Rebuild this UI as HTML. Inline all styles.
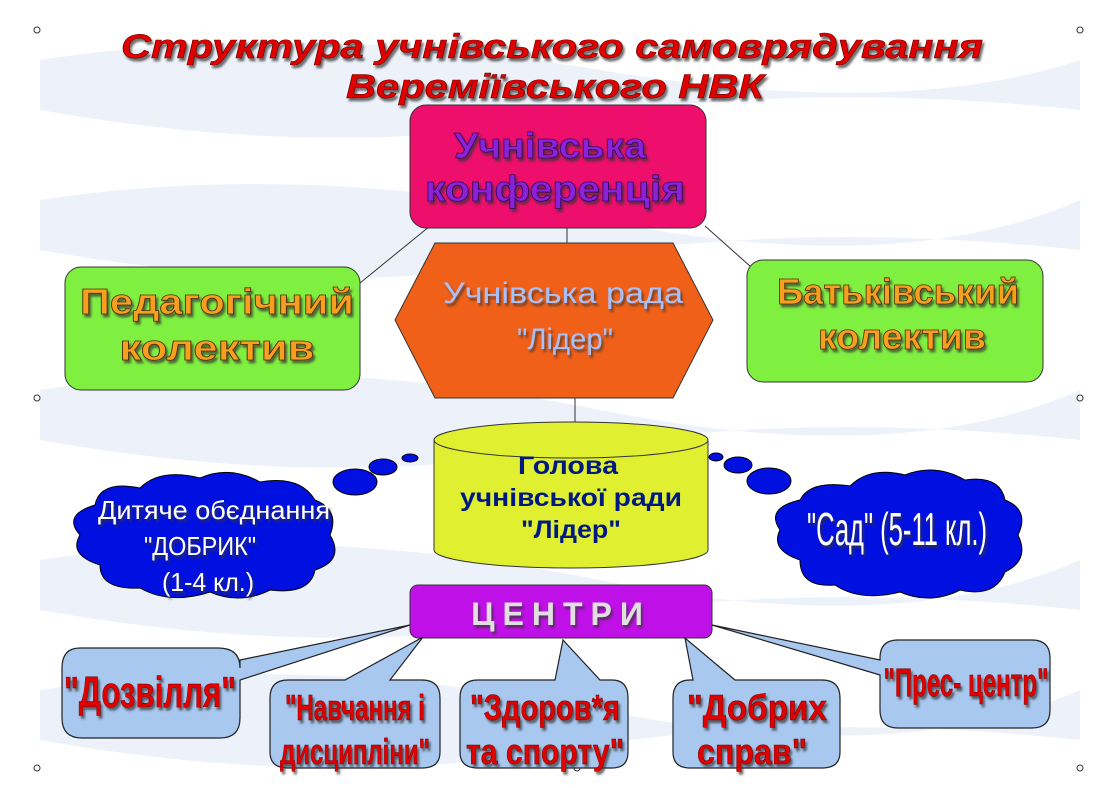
<!DOCTYPE html>
<html><head><meta charset="utf-8"><style>
html,body{margin:0;padding:0;background:#fff}
svg{display:block}
text{font-family:"Liberation Sans",sans-serif}
.b{font-weight:bold}
.n{font-weight:normal}
</style></head><body>
<svg width="1115" height="788" viewBox="0 0 1115 788" xmlns="http://www.w3.org/2000/svg">
<defs>
<filter id="sh" x="-10%" y="-10%" width="130%" height="140%"><feDropShadow dx="2" dy="3" stdDeviation="1" flood-color="#333" flood-opacity="0.7"/></filter>
</defs>
<g fill="#edf2fa">
<path d="M40 60 Q300 20 600 70 T1080 60 L1080 110 Q800 80 560 120 T40 110Z"/>
<path d="M40 200 Q300 160 600 220 T1080 200 L1080 250 Q800 220 560 260 T40 250Z"/>
<path d="M40 390 Q300 350 600 410 T1080 390 L1080 440 Q800 410 560 450 T40 440Z"/>
<path d="M40 560 Q300 520 600 580 T1080 560 L1080 610 Q800 580 560 620 T40 610Z"/>
<path d="M40 690 Q300 650 600 710 T1080 690 L1080 740 Q800 710 560 750 T40 740Z"/>
</g>
<g fill="#fff" stroke="#333" stroke-width="1">
<circle cx="37" cy="30" r="3"/><circle cx="1080" cy="30" r="3"/><circle cx="37" cy="398" r="3"/><circle cx="1080" cy="398" r="3"/><circle cx="37" cy="768" r="3"/><circle cx="577" cy="768" r="3"/><circle cx="1080" cy="768" r="3"/>
</g>
<g class="b" fill="#e00000" font-style="italic" font-size="34" text-anchor="middle" stroke="#600" stroke-width="0.6" filter="url(#sh)">
<text x="552" y="58" textLength="862" lengthAdjust="spacingAndGlyphs">Структура учнівського самоврядування</text>
<text x="555" y="98" textLength="418" lengthAdjust="spacingAndGlyphs">Вереміївського НВК</text>
</g>
<g stroke="#333" stroke-width="1">
<line x1="430" y1="226" x2="360" y2="283"/>
<line x1="567" y1="226" x2="567" y2="243"/>
<line x1="705" y1="226" x2="760" y2="275"/>
<line x1="575" y1="398" x2="575" y2="424"/>
</g>
<rect x="410" y="105" width="296" height="123" rx="16" fill="#ee0e6c" stroke="#333"/>
<g class="b" fill="#8a20d8" font-size="36" text-anchor="middle" stroke="#3a0060" stroke-width="0.8" filter="url(#sh)">
<text x="550" y="158" textLength="192" lengthAdjust="spacingAndGlyphs">Учнівська</text>
<text x="555" y="201" textLength="260" lengthAdjust="spacingAndGlyphs">конференція</text>
</g>
<rect x="65" y="267" width="295" height="123" rx="16" fill="#80f040" stroke="#333"/>
<rect x="747" y="260" width="296" height="122" rx="16" fill="#80f040" stroke="#333"/>
<g class="b" fill="#f6a020" font-size="36" text-anchor="middle" stroke="#5a2a00" stroke-width="0.8" filter="url(#sh)">
<text x="217" y="314" textLength="274" lengthAdjust="spacingAndGlyphs">Педагогічний</text>
<text x="217" y="360" textLength="195" lengthAdjust="spacingAndGlyphs">колектив</text>
<text x="898" y="304" textLength="242" lengthAdjust="spacingAndGlyphs">Батьківський</text>
<text x="902" y="349" textLength="168" lengthAdjust="spacingAndGlyphs">колектив</text>
</g>
<polygon points="395,320 435,243 673,243 713,320 673,398 435,398" fill="#f06018" stroke="#333"/>
<g class="n" fill="#a8c0f8" font-size="30" text-anchor="middle" filter="url(#sh)">
<text x="563" y="303" textLength="240" lengthAdjust="spacingAndGlyphs">Учнівська рада</text>
<text x="565" y="349" textLength="96" lengthAdjust="spacingAndGlyphs">"Лідер"</text>
</g>
<path d="M434 440 L434 550 A137 18 0 0 0 708 550 L708 440" fill="#e0f030" stroke="#333"/>
<ellipse cx="571" cy="440" rx="137" ry="18" fill="#e0f030" stroke="#333"/>
<g class="b" fill="#001a80" font-size="25" text-anchor="middle">
<text x="568" y="474" textLength="100" lengthAdjust="spacingAndGlyphs">Голова</text>
<text x="571" y="506" textLength="222" lengthAdjust="spacingAndGlyphs">учнівської ради</text>
<text x="571" y="538" textLength="100" lengthAdjust="spacingAndGlyphs">"Лідер"</text>
</g>
<g fill="#0010e0" stroke="#000" stroke-width="1">
<ellipse cx="410" cy="458" rx="8" ry="4"/>
<ellipse cx="383" cy="467" rx="14" ry="8"/>
<ellipse cx="355" cy="482" rx="22" ry="13"/>
<ellipse cx="716" cy="457" rx="7" ry="4"/>
<ellipse cx="738" cy="465" rx="14" ry="8"/>
<ellipse cx="769" cy="481" rx="22" ry="13"/>
<path d="M95 505 Q100 480 140 488 Q160 468 200 478 Q230 465 260 482 Q300 475 315 500 Q340 510 330 535 Q345 560 315 570 Q310 595 270 590 Q240 605 210 592 Q170 605 140 588 Q100 590 100 565 Q68 555 80 535 Q62 515 95 505Z"/>
<path d="M800 500 Q810 480 850 486 Q870 466 905 475 Q935 463 965 480 Q1000 475 1005 500 Q1030 510 1018 535 Q1030 560 1005 572 Q995 598 960 590 Q930 605 900 592 Q860 602 835 585 Q800 588 800 560 Q770 550 780 530 Q765 508 800 500Z"/>
</g>
<g class="n" fill="#fff" font-size="26" text-anchor="middle" filter="url(#sh)">
<text x="214" y="519" textLength="232" lengthAdjust="spacingAndGlyphs">Дитяче обєднання</text>
<text x="200" y="555" textLength="112" lengthAdjust="spacingAndGlyphs">"ДОБРИК"</text>
<text x="208" y="591" textLength="92" lengthAdjust="spacingAndGlyphs">(1-4 кл.)</text>
<text x="897" y="545" font-size="46" textLength="180" lengthAdjust="spacingAndGlyphs">"Сад" (5-11 кл.)</text>
</g>
<rect x="410" y="585" width="302" height="53" rx="8" fill="#c010e8" stroke="#333"/>
<text class="b" x="561" y="625" font-size="32" fill="#e0e0e0" text-anchor="middle" letter-spacing="8" filter="url(#sh)">ЦЕНТРИ</text>
<g fill="#a8c8f0" stroke="#222" stroke-width="1.2">
<path d="M80 648 L218 648 Q240 648 240 668 L240 660 L410 625 L240 680 L240 718 Q240 738 220 738 L82 738 Q62 738 62 718 L62 668 Q62 648 80 648Z"/>
<path d="M288 680 L345 680 L423 637 L390 680 L422 680 Q440 680 440 698 L440 752 Q440 768 422 768 L288 768 Q270 768 270 752 L270 698 Q270 680 288 680Z"/>
<path d="M478 680 L555 680 L563 640 L600 680 L612 680 Q628 680 628 698 L628 752 Q628 768 612 768 L478 768 Q460 768 460 752 L460 698 Q460 680 478 680Z"/>
<path d="M690 680 L693 680 L685 638 L735 680 L822 680 Q840 680 840 698 L840 752 Q840 768 822 768 L690 768 Q673 768 673 752 L673 698 Q673 680 690 680Z"/>
<path d="M898 640 L1032 640 Q1050 640 1050 658 L1050 710 Q1050 728 1032 728 L898 728 Q880 728 880 710 L880 675 L712 625 L880 660 L880 658 Q880 640 898 640Z"/>
</g>
<g class="b" fill="#e00000" text-anchor="middle" stroke="#600" stroke-width="0.5" filter="url(#sh)">
<text x="150" y="707" font-size="44" textLength="172" lengthAdjust="spacingAndGlyphs">"Дозвілля"</text>
<text x="355" y="720" font-size="36" textLength="140" lengthAdjust="spacingAndGlyphs">"Навчання і</text>
<text x="355" y="764" font-size="36" textLength="150" lengthAdjust="spacingAndGlyphs">дисципліни"</text>
<text x="545" y="720" font-size="36" textLength="150" lengthAdjust="spacingAndGlyphs">"Здоров*я</text>
<text x="545" y="764" font-size="36" textLength="158" lengthAdjust="spacingAndGlyphs">та спорту"</text>
<text x="757" y="720" font-size="36" textLength="140" lengthAdjust="spacingAndGlyphs">"Добрих</text>
<text x="752" y="764" font-size="36" textLength="110" lengthAdjust="spacingAndGlyphs">справ"</text>
<text x="966" y="696" font-size="40" textLength="165" lengthAdjust="spacingAndGlyphs">"Прес- центр"</text>
</g>
</svg>
</body></html>
